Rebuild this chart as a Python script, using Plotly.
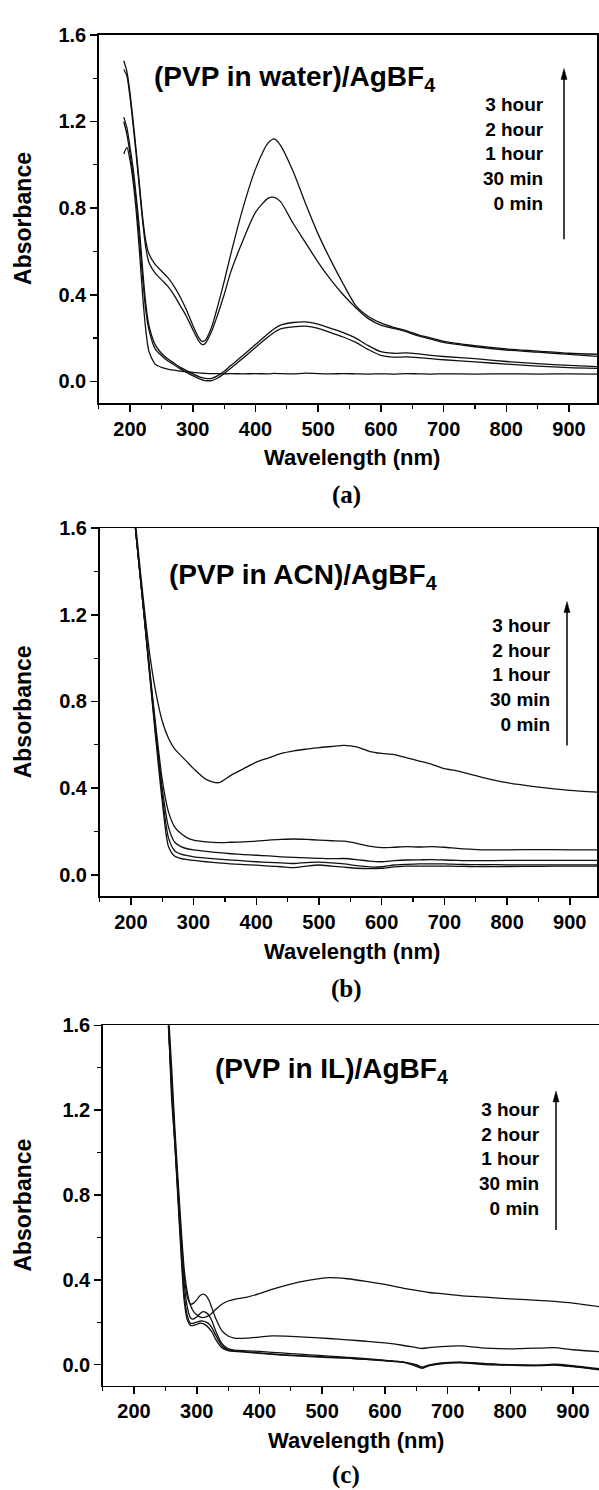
import plotly.graph_objects as go

# ---------------- data ----------------
wl_a = [190, 195, 200, 205, 210, 215, 220, 225, 230, 240, 250, 260, 270, 280, 290, 300,
        310, 315, 320, 330, 340, 350, 360, 380, 400, 420, 430, 440, 460, 480, 500, 520,
        540, 560, 580, 600, 620, 640, 660, 680, 700, 750, 800, 850, 900, 950]
a_3h = [1.48, 1.43, 1.33, 1.20, 1.06, 0.91, 0.76, 0.65, 0.59, 0.54, 0.51, 0.48, 0.44, 0.39, 0.33, 0.26,
        0.20, 0.185, 0.19, 0.25, 0.35, 0.46, 0.58, 0.80, 0.98, 1.10, 1.12, 1.09, 0.97, 0.82, 0.68, 0.56,
        0.45, 0.35, 0.30, 0.27, 0.25, 0.235, 0.215, 0.20, 0.185, 0.165, 0.15, 0.14, 0.13, 0.125]
a_2h = [1.44, 1.41, 1.31, 1.18, 1.04, 0.89, 0.74, 0.62, 0.55, 0.50, 0.47, 0.44, 0.40, 0.35, 0.30, 0.24,
        0.185, 0.17, 0.175, 0.23, 0.31, 0.40, 0.50, 0.65, 0.78, 0.845, 0.85, 0.83, 0.73, 0.64, 0.55, 0.47,
        0.40, 0.34, 0.29, 0.26, 0.245, 0.23, 0.21, 0.195, 0.18, 0.16, 0.145, 0.135, 0.125, 0.115]
a_1h = [1.22, 1.17, 1.08, 0.98, 0.85, 0.70, 0.52, 0.36, 0.26, 0.17, 0.13, 0.105, 0.085, 0.065, 0.05, 0.035,
        0.022, 0.017, 0.014, 0.014, 0.027, 0.047, 0.072, 0.12, 0.17, 0.22, 0.243, 0.26, 0.272, 0.275, 0.265, 0.245,
        0.225, 0.20, 0.165, 0.137, 0.13, 0.132, 0.127, 0.12, 0.115, 0.105, 0.092, 0.082, 0.074, 0.068]
a_30m = [1.20, 1.14, 1.05, 0.95, 0.82, 0.66, 0.48, 0.33, 0.24, 0.15, 0.12, 0.095, 0.077, 0.058, 0.042, 0.027,
         0.013, 0.007, 0.004, 0.004, 0.016, 0.036, 0.06, 0.107, 0.157, 0.205, 0.227, 0.243, 0.252, 0.255, 0.245, 0.225,
         0.205, 0.18, 0.147, 0.12, 0.112, 0.113, 0.11, 0.105, 0.1, 0.09, 0.08, 0.071, 0.064, 0.06]
a_0m = [1.05, 1.08, 1.02, 0.92, 0.78, 0.60, 0.40, 0.24, 0.14, 0.08, 0.065, 0.057, 0.052, 0.048, 0.045, 0.042,
        0.039, 0.038, 0.037, 0.036, 0.036, 0.035, 0.036, 0.035, 0.036, 0.035, 0.037, 0.036, 0.035, 0.038, 0.036, 0.035,
        0.036, 0.035, 0.034, 0.035, 0.034, 0.036, 0.035, 0.034, 0.035, 0.034, 0.035, 0.034, 0.035, 0.034]

wl_b = [190, 200, 210, 220, 230, 240, 250, 260, 270, 280, 290, 300, 320, 340, 360, 380, 400, 420, 440, 460,
        480, 500, 520, 540, 560, 580, 600, 620, 640, 660, 680, 700, 720, 740, 760, 800, 850, 900, 950]
b_3h = [2.2, 1.85, 1.55, 1.27, 1.02, 0.84, 0.71, 0.63, 0.58, 0.55, 0.52, 0.49, 0.44, 0.425, 0.46, 0.49, 0.52, 0.54, 0.56, 0.572,
        0.58, 0.587, 0.592, 0.597, 0.59, 0.57, 0.56, 0.555, 0.54, 0.525, 0.51, 0.49, 0.48, 0.465, 0.45, 0.425, 0.405, 0.39, 0.38]
b_2h = [2.2, 1.82, 1.52, 1.24, 0.95, 0.68, 0.44, 0.29, 0.22, 0.19, 0.17, 0.16, 0.152, 0.148, 0.15, 0.152, 0.155, 0.16, 0.163, 0.165,
        0.163, 0.16, 0.157, 0.155, 0.145, 0.132, 0.125, 0.127, 0.13, 0.128, 0.13, 0.127, 0.122, 0.118, 0.115, 0.115, 0.116, 0.115, 0.115]
b_1h = [2.2, 1.82, 1.52, 1.23, 0.94, 0.66, 0.40, 0.22, 0.15, 0.13, 0.12, 0.115, 0.108, 0.102, 0.097, 0.093, 0.09, 0.087, 0.083, 0.08,
        0.078, 0.076, 0.074, 0.075, 0.07, 0.063, 0.06, 0.065, 0.068, 0.069, 0.07, 0.068, 0.066, 0.065, 0.065, 0.066, 0.066, 0.066, 0.066]
b_30m = [2.2, 1.82, 1.52, 1.23, 0.93, 0.64, 0.37, 0.17, 0.11, 0.095, 0.088, 0.083, 0.077, 0.072, 0.068, 0.064, 0.06, 0.057, 0.055, 0.052,
         0.056, 0.058, 0.055, 0.05, 0.042, 0.036, 0.037, 0.045, 0.048, 0.05, 0.05, 0.05, 0.048, 0.047, 0.047, 0.046, 0.046, 0.046, 0.046]
b_0m = [2.2, 1.82, 1.52, 1.23, 0.92, 0.62, 0.34, 0.13, 0.085, 0.075, 0.07, 0.066, 0.06, 0.055, 0.05, 0.047, 0.044, 0.04, 0.037, 0.033,
        0.04, 0.045, 0.04, 0.035, 0.03, 0.028, 0.03, 0.036, 0.04, 0.04, 0.04, 0.04, 0.039, 0.038, 0.038, 0.038, 0.039, 0.04, 0.04]

wl_c = [250, 255, 260, 265, 270, 275, 280, 285, 290, 295, 300, 305, 310, 315, 320, 325, 330, 340, 350, 360,
        380, 400, 420, 450, 480, 510, 540, 570, 600, 630, 650, 660, 670, 690, 720, 760, 800, 850, 870, 900, 950]
c_3h = [1.9, 1.65, 1.4, 1.12, 0.88, 0.65, 0.45, 0.34, 0.28, 0.25, 0.235, 0.225, 0.222, 0.225, 0.232, 0.245, 0.26, 0.285, 0.30, 0.308,
        0.318, 0.335, 0.355, 0.38, 0.398, 0.41, 0.405, 0.393, 0.378, 0.36, 0.35, 0.345, 0.34, 0.335, 0.325, 0.318, 0.31, 0.302, 0.298, 0.29, 0.27]
c_2h = [1.85, 1.6, 1.35, 1.08, 0.84, 0.6, 0.42, 0.32, 0.285, 0.29, 0.305, 0.325, 0.332, 0.325, 0.30, 0.26, 0.22, 0.16, 0.135, 0.125,
        0.125, 0.13, 0.135, 0.133, 0.128, 0.123, 0.117, 0.11, 0.102, 0.09, 0.08, 0.076, 0.08, 0.085, 0.088, 0.078, 0.074, 0.078, 0.08, 0.07, 0.06]
c_1h = [1.95, 1.62, 1.25, 1.05, 0.82, 0.58, 0.38, 0.27, 0.22, 0.215, 0.225, 0.24, 0.25, 0.245, 0.23, 0.2, 0.16, 0.1, 0.075, 0.068,
        0.065, 0.062, 0.058, 0.052, 0.046, 0.04, 0.034, 0.028, 0.02, 0.012, 0.0, -0.012, -0.002, 0.008, 0.012, 0.005, 0.0, -0.002, 0.002, -0.005, -0.022]
c_30m = [1.9, 1.6, 1.32, 1.06, 0.8, 0.55, 0.33, 0.23, 0.195, 0.195, 0.2, 0.205, 0.205, 0.2, 0.19, 0.17, 0.14, 0.09, 0.07, 0.065,
         0.06, 0.055, 0.05, 0.045, 0.04, 0.035, 0.03, 0.025, 0.018, 0.01, -0.005, -0.015, -0.004, 0.006, 0.01, 0.003, -0.002, -0.004, 0.0, -0.008, -0.025]
c_0m = [1.88, 1.58, 1.3, 1.04, 0.78, 0.52, 0.3, 0.21, 0.185, 0.185, 0.19, 0.195, 0.193, 0.185, 0.17, 0.15, 0.12, 0.08, 0.066, 0.062,
        0.058, 0.053, 0.048, 0.042, 0.038, 0.033, 0.03, 0.025, 0.02, 0.012, -0.008, -0.018, -0.006, 0.004, 0.008, 0.0, -0.003, -0.005, -0.002, -0.01, -0.028]

time_labels = ["3 hour", "2 hour", "1 hour", "30 min", "0 min"]
panel_titles = ["(PVP in water)/AgBF<sub>4</sub>", "(PVP in ACN)/AgBF<sub>4</sub>", "(PVP in IL)/AgBF<sub>4</sub>"]
panel_letters = ["(a)", "(b)", "(c)"]
x_ticks = [200, 300, 400, 500, 600, 700, 800, 900]
y_ticks = [0.0, 0.4, 0.8, 1.2, 1.6]

panels = [
    (wl_a, [a_3h, a_2h, a_1h, a_30m, a_0m]),
    (wl_b, [b_3h, b_2h, b_1h, b_30m, b_0m]),
    (wl_c, [c_3h, c_2h, c_1h, c_30m, c_0m]),
]

# ---------------- layout helpers ----------------
W, H = 599, 1490
FONT = "Liberation Sans, Arial, Helvetica, sans-serif"
SERIF = "Liberation Serif, Times New Roman, serif"


def px(x):
    return x / W


def py(y):
    return 1 - y / H


# pixel boxes: (left, right, top, bottom, xmax, right frame)
boxes = [
    (98.7, 597, 24, 395, 944.7, True),
    (99.5, 597, 521, 892, 943.4, True),
    (102.7, 599, 1022, 1385, 941.5, False),
]

fig = go.Figure()
for i, ((wl, series), box) in enumerate(zip(panels, boxes)):
    sfx = "" if i == 0 else str(i + 1)
    for s in series:
        fig.add_trace(go.Scatter(x=wl, y=s, mode="lines", xaxis="x" + sfx, yaxis="y" + sfx,
                                 line=dict(color="#111111", width=1.3, shape="spline", smoothing=0.7),
                                 hoverinfo="skip"))
    left, right, top, bottom, xmax, rframe = box
    fig.layout["xaxis" + sfx] = dict(
        domain=[px(left), px(right)], range=[150, xmax], anchor="y" + sfx,
        tickvals=x_ticks, ticks="outside", ticklen=7, tickwidth=1.5, tickcolor="black",
        showline=True, linecolor="black", linewidth=1.5, mirror=True,
        showgrid=False, zeroline=False,
        tickfont=dict(family=FONT, size=20, color="black", weight="bold"),
        minor=dict(dtick=50, tick0=150, ticks="outside", ticklen=4, tickwidth=1.2, tickcolor="black"),
    )
    fig.layout["yaxis" + sfx] = dict(
        domain=[py(bottom), py(top)], range=[-0.1, 1.6], anchor="x" + sfx,
        tickvals=y_ticks, tickformat=".1f", ticks="outside", ticklen=7, tickwidth=1.5, tickcolor="black",
        showline=True, linecolor="black", linewidth=1.5, mirror=rframe,
        showgrid=False, zeroline=False,
        tickfont=dict(family=FONT, size=20, color="black", weight="bold"),
        minor=dict(dtick=0.2, tick0=0, ticks="outside", ticklen=4, tickwidth=1.2, tickcolor="black"),
    )

annotations = []
shapes = []
title_pos = [(152, 68), (167, 570), (213, 1067)]
legend_pos = [(546, 144), (553, 669), (542, 1157)]
arrow_pos = [(564, 58, 230), (567, 595, 740), (556, 1088, 1228)]
letter_y = [488, 985, 1475]
for i in range(3):
    left, right, top, bottom, xmax, rframe = boxes[i]
    tx, ty = title_pos[i]
    annotations.append(dict(x=px(tx), y=py(ty), xref="paper", yref="paper", xanchor="left", yanchor="middle",
                            text=panel_titles[i], showarrow=False,
                            font=dict(family=FONT, size=28, color="black", weight="bold")))
    lx, ly = legend_pos[i]
    annotations.append(dict(x=px(lx), y=py(ly), xref="paper", yref="paper", xanchor="right", yanchor="middle",
                            align="right", text="<br>".join(time_labels), showarrow=False,
                            font=dict(family=FONT, size=19, color="black", weight="bold")))
    ax_, ay1, ay2 = arrow_pos[i]
    shapes.append(dict(type="line", xref="paper", yref="paper", x0=px(ax_), x1=px(ax_),
                       y0=py(ay2), y1=py(ay1 + 8), line=dict(color="black", width=1.5)))
    shapes.append(dict(type="path", xref="paper", yref="paper",
                       path=f"M {px(ax_)},{py(ay1)} L {px(ax_ - 3)},{py(ay1 + 11)} L {px(ax_ + 3)},{py(ay1 + 11)} Z",
                       fillcolor="black", line=dict(color="black", width=0.5)))
    annotations.append(dict(x=px(23), y=py((top + bottom) / 2), xref="paper", yref="paper", text="Absorbance",
                            textangle=-90, showarrow=False, xanchor="center", yanchor="middle",
                            font=dict(family=FONT, size=23, color="black", weight="bold")))
    annotations.append(dict(x=px(352 + (4 if i == 2 else 0)), y=py(bottom + 55), xref="paper", yref="paper",
                            text="Wavelength (nm)", showarrow=False, xanchor="center", yanchor="middle",
                            font=dict(family=FONT, size=22, color="black", weight="bold")))
    annotations.append(dict(x=px(346), y=py(letter_y[i]), xref="paper", yref="paper",
                            text=panel_letters[i], showarrow=False, xanchor="center", yanchor="middle",
                            font=dict(family=SERIF, size=25, color="black", weight="bold")))

fig.update_layout(width=W, height=H, margin=dict(l=0, r=0, t=0, b=0), showlegend=False,
                  paper_bgcolor="white", plot_bgcolor="white", annotations=annotations, shapes=shapes)

fig.write_html("out.html", config={"displayModeBar": False, "staticPlot": True},
               post_script="document.body.style.margin='0';document.body.style.overflow='hidden';")
